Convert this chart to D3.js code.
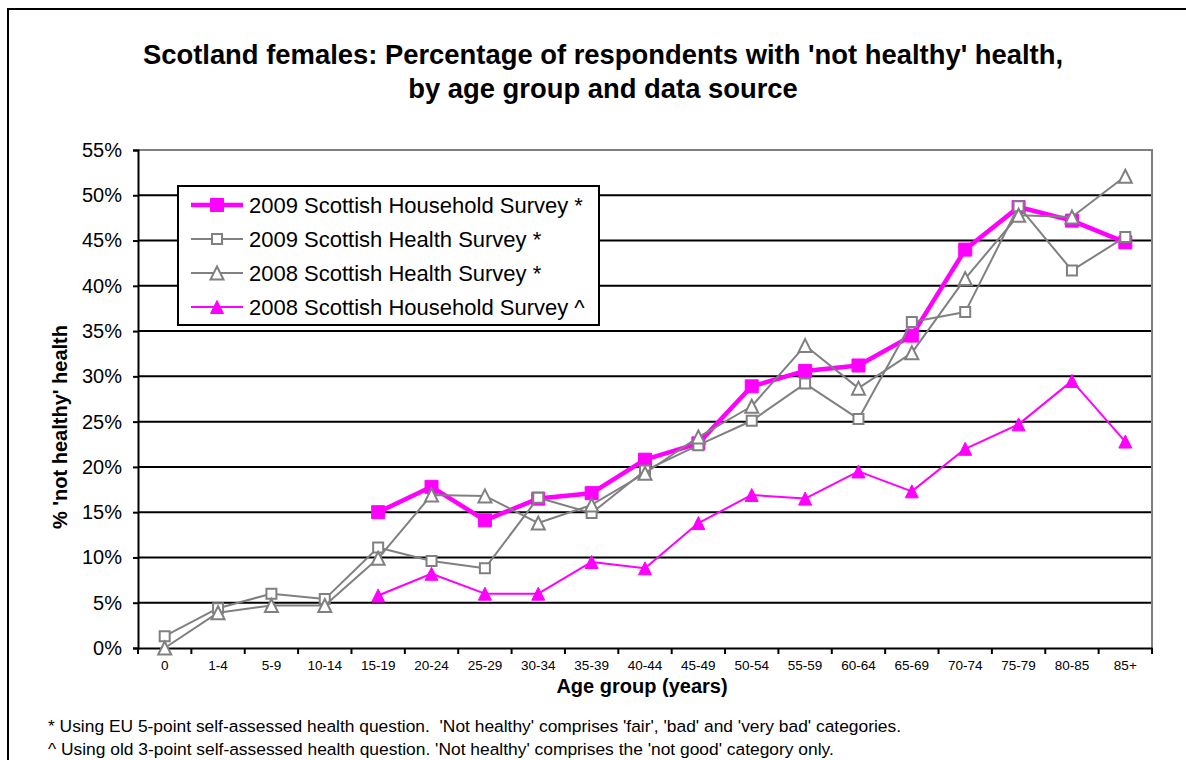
<!DOCTYPE html>
<html>
<head>
<meta charset="utf-8">
<script src="https://cdn.jsdelivr.net/npm/d3@7"></script>
<style>
  body { margin: 0; background: #fff; }
  svg { font-family: "Liberation Sans", Arial, sans-serif; }
</style>
</head>
<body>
<div id="chart"></div>
<script>
// age groups on the x axis
var ageGroups = ["0", "1-4", "5-9", "10-14", "15-19", "20-24", "25-29", "30-34", "35-39",
  "40-44", "45-49", "50-54", "55-59", "60-64", "65-69", "70-74", "75-79", "80-85", "85+"];

// % 'not healthy' by series (null = no data)
var shos2009 = [null, null, null, null, 15.0, 17.8, 14.1, 16.5, 17.1, 20.8, 22.6, 28.9, 30.6, 31.2, 34.5, 44.0, 48.7, 47.2, 44.8];
var shes2009 = [1.3, 4.4, 6.0, 5.4, 11.1, 9.6, 8.8, 16.6, 14.9, 19.6, 22.4, 25.1, 29.2, 25.3, 36.0, 37.1, 48.8, 41.7, 45.4];
var shes2008 = [0.0, 3.9, 4.7, 4.7, 9.9, 16.9, 16.8, 13.8, 15.8, 19.3, 23.3, 26.7, 33.4, 28.7, 32.6, 40.8, 47.8, 47.6, 52.1];
var shos2008 = [null, null, null, null, 5.8, 8.2, 6.0, 6.0, 9.5, 8.8, 13.8, 16.9, 16.5, 19.5, 17.3, 22.0, 24.7, 29.5, 22.8];

var seriesNames = ["2009 Scottish Household Survey *", "2009 Scottish Health Survey *",
  "2008 Scottish Health Survey *", "2008 Scottish Household Survey ^"];
var yTicks = [0, 5, 10, 15, 20, 25, 30, 35, 40, 45, 50, 55];

var width = 1186;
var height = 760;

var plotLeft = 138;
var plotRight = 1152;
var plotTop = 150;
var plotBottom = 648;

var magenta = "#ff00ff";
var grey = "#808080";

var series = [
  { name: seriesNames[0], values: shos2009, color: magenta, lineW: 4.5, marker: "square", fill: true, size: 13 },
  { name: seriesNames[1], values: shes2009, color: grey, lineW: 2, marker: "square", fill: false, size: 10 },
  { name: seriesNames[2], values: shes2008, color: grey, lineW: 2, marker: "triangle", fill: false, size: 13 },
  { name: seriesNames[3], values: shos2008, color: magenta, lineW: 2, marker: "triangle", fill: true, size: 13 }
];

var svg = d3.select("#chart").append("svg")
  .attr("width", width)
  .attr("height", height);

// outer chart frame
svg.append("rect")
  .attr("x", 8).attr("y", 9)
  .attr("width", 1200).attr("height", 800)
  .attr("fill", "#fff")
  .attr("stroke", "#000")
  .attr("stroke-width", 2);

// title
var title = svg.append("text")
  .attr("text-anchor", "middle")
  .attr("font-weight", "bold")
  .attr("font-size", 27.4);
title.append("tspan").attr("x", 603).attr("y", 64)
  .text("Scotland females: Percentage of respondents with 'not healthy' health,");
title.append("tspan").attr("x", 603).attr("y", 98)
  .text("by age group and data source");

var xScale = d3.scaleBand()
  .domain(ageGroups)
  .range([plotLeft, plotRight]);

var yScale = d3.scaleLinear()
  .domain([0, 55])
  .range([plotBottom, plotTop]);

function xPos(i) {
  return xScale(ageGroups[i]) + xScale.bandwidth() / 2;
}

// grid lines
svg.append("g")
  .selectAll("line")
  .data(yTicks.filter(function (d) { return d > 0 && d < 55; }))
  .enter()
  .append("line")
  .attr("x1", plotLeft).attr("x2", plotRight)
  .attr("y1", function (d) { return yScale(d); })
  .attr("y2", function (d) { return yScale(d); })
  .attr("stroke", "#000")
  .attr("stroke-width", 2);

// plot area border (top and right, grey)
svg.append("path")
  .attr("d", "M" + plotLeft + "," + plotTop + "H" + plotRight + "V" + plotBottom)
  .attr("fill", "none")
  .attr("stroke", grey)
  .attr("stroke-width", 2);

// y axis
var yAxis = d3.axisLeft(yScale)
  .tickValues(yTicks)
  .tickSize(5)
  .tickPadding(11)
  .tickFormat(function (d) { return d + "%"; });

var yG = svg.append("g")
  .attr("transform", "translate(" + plotLeft + ",0)")
  .call(yAxis);
yG.select(".domain").attr("stroke", "#000").attr("stroke-width", 2);
yG.selectAll(".tick line").attr("stroke", "#000").attr("stroke-width", 2);
yG.selectAll(".tick text")
  .attr("font-size", 20)
  .attr("font-family", "Liberation Sans, Arial, sans-serif")
  .attr("fill", "#000");

// x axis - labels centred, ticks on category boundaries
var xAxis = d3.axisBottom(xScale).tickSize(0).tickPadding(12);
var xG = svg.append("g")
  .attr("transform", "translate(0," + plotBottom + ")")
  .call(xAxis);
xG.select(".domain").attr("stroke", "#000").attr("stroke-width", 2);
xG.selectAll(".tick text")
  .attr("font-size", 13.5)
  .attr("font-family", "Liberation Sans, Arial, sans-serif")
  .attr("fill", "#000");

xG.selectAll("line.bound")
  .data(d3.range(ageGroups.length + 1))
  .enter()
  .append("line")
  .attr("class", "bound")
  .attr("x1", function (i) { return plotLeft + i * xScale.step(); })
  .attr("x2", function (i) { return plotLeft + i * xScale.step(); })
  .attr("y1", 0).attr("y2", 6)
  .attr("stroke", "#000")
  .attr("stroke-width", 2);

// axis titles
svg.append("text")
  .attr("x", 642).attr("y", 693)
  .attr("text-anchor", "middle")
  .attr("font-weight", "bold")
  .attr("font-size", 20)
  .text("Age group (years)");

svg.append("text")
  .attr("transform", "translate(67,427)rotate(-90)")
  .attr("text-anchor", "middle")
  .attr("font-weight", "bold")
  .attr("font-size", 20)
  .text("% 'not healthy' health");

// markers
function markerPath(type, s) {
  var h = s / 2;
  if (type === "square") {
    return "M" + (-h) + "," + (-h) + "H" + h + "V" + h + "H" + (-h) + "Z";
  }
  return "M0," + (-h) + "L" + h + "," + h + "L" + (-h) + "," + h + "Z";
}

function drawMarker(g, s, x, y) {
  g.append("path")
    .attr("d", markerPath(s.marker, s.size))
    .attr("transform", "translate(" + x + "," + y + ")")
    .attr("fill", s.fill ? s.color : "#fff")
    .attr("stroke", s.color)
    .attr("stroke-width", s.fill ? 1 : 2);
}

var line = d3.line()
  .defined(function (d) { return d != null; })
  .x(function (d, i) { return xPos(i); })
  .y(function (d) { return yScale(d); });

series.forEach(function (s) {
  var g = svg.append("g");
  g.append("path")
    .datum(s.values)
    .attr("d", line)
    .attr("fill", "none")
    .attr("stroke", s.color)
    .attr("stroke-width", s.lineW)
    .attr("stroke-linejoin", "round");
  s.values.forEach(function (v, i) {
    if (v == null) return;
    drawMarker(g, s, xPos(i), yScale(v));
  });
});

// legend
var legend = svg.append("g");
legend.append("rect")
  .attr("x", 178).attr("y", 186)
  .attr("width", 421).attr("height", 139)
  .attr("fill", "#fff")
  .attr("stroke", "#000")
  .attr("stroke-width", 2);

series.forEach(function (s, i) {
  var cy = 205 + i * 34;
  var row = legend.append("g");
  row.append("line")
    .attr("x1", 191).attr("x2", 243)
    .attr("y1", cy).attr("y2", cy)
    .attr("stroke", s.color)
    .attr("stroke-width", s.lineW);
  drawMarker(row, s, 217, cy);
  row.append("text")
    .attr("x", 249).attr("y", cy + 8)
    .attr("font-size", 22)
    .text(s.name);
});

// footnotes
svg.append("text")
  .attr("x", 48).attr("y", 732)
  .attr("font-size", 17.4)
  .attr("xml:space", "preserve")
  .text("* Using EU 5-point self-assessed health question.  'Not healthy' comprises 'fair', 'bad' and 'very bad' categories.");
svg.append("text")
  .attr("x", 48).attr("y", 755)
  .attr("font-size", 17.4)
  .text("^ Using old 3-point self-assessed health question. 'Not healthy' comprises the 'not good' category only.");
</script>
</body>
</html>
